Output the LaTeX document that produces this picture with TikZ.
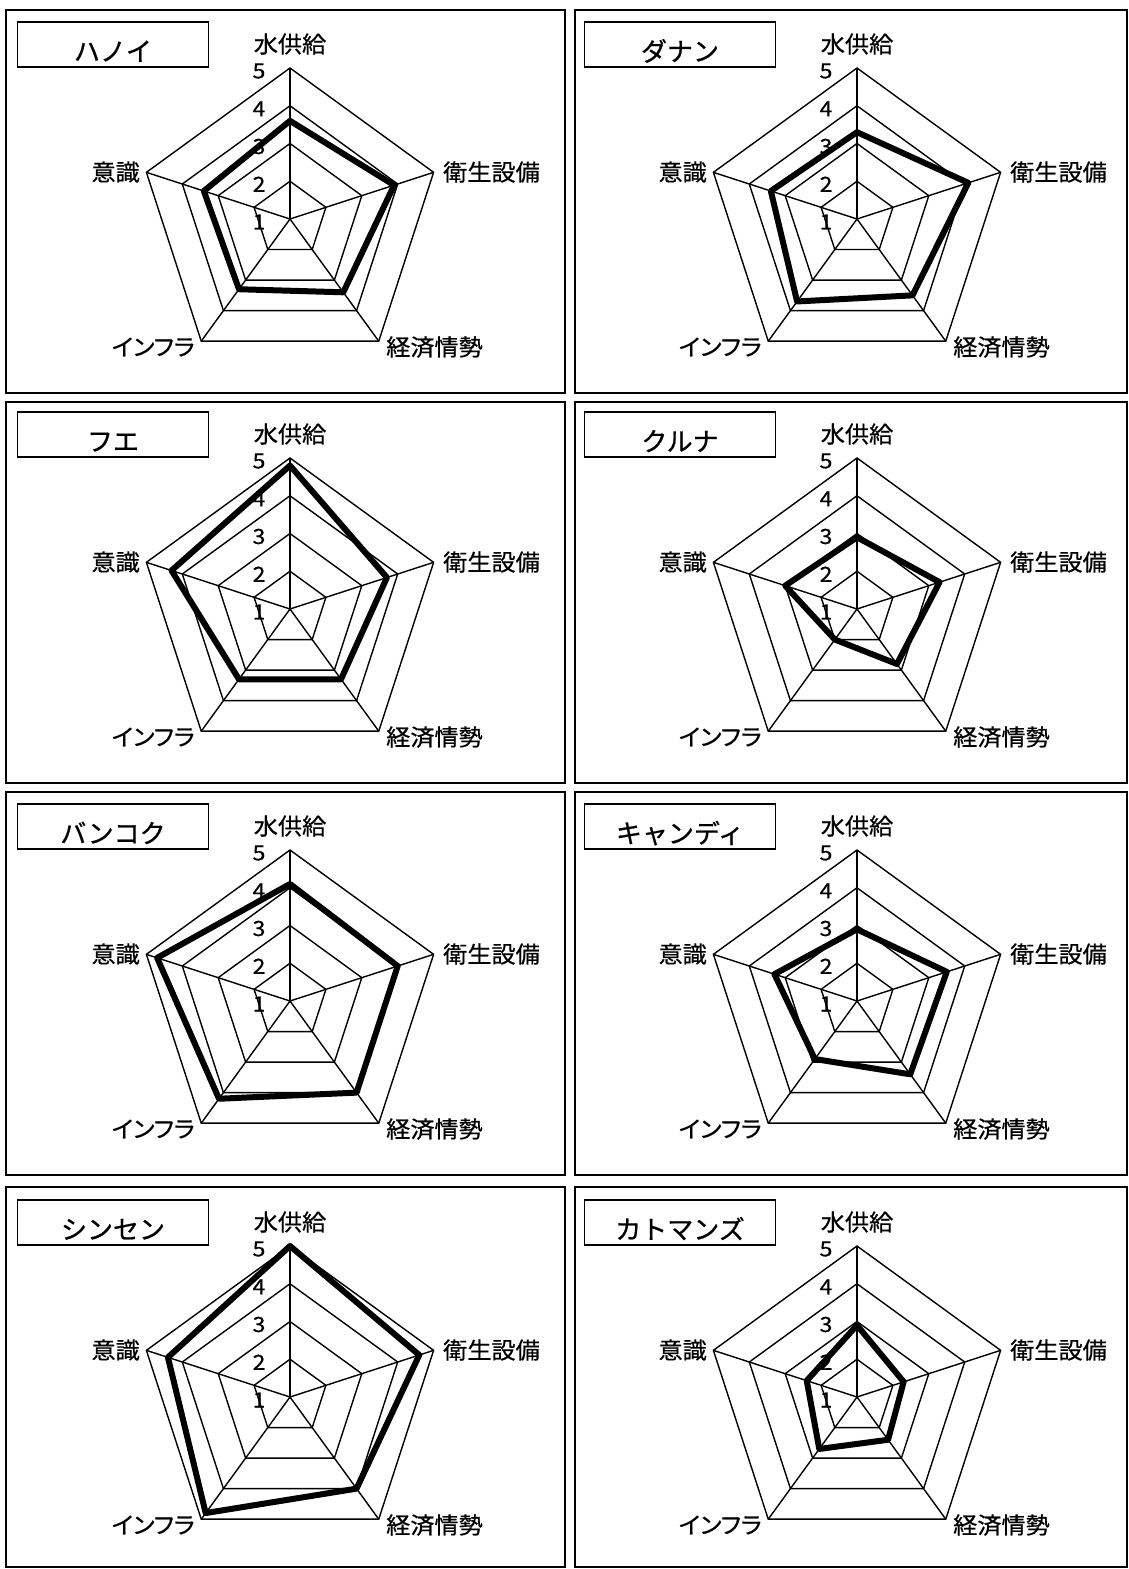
\documentclass[tikz,border=0pt]{standalone}
\usepackage{fontspec}
\newfontfamily\titlefont[FakeBold=0.8]{Noto Sans CJK JP}
\newfontfamily\axisfont[FakeStretch=1.05, FakeBold=0.6, RawFeature=+palt]{Noto Sans CJK JP}
\newfontfamily\tickfont[FakeStretch=1.1, FakeBold=0.5]{Noto Sans CJK JP}
\begin{document}
\begin{tikzpicture}[x=1pt, y=-1pt]

\def\ringstep{37.75};
\def\rmax{151};
\tikzset{
    panel frame/.style={draw, line width=1.5pt},
    title box/.style={
        draw,
        line width=1.5pt,
        inner sep=0pt,
        minimum width=191pt,
        minimum height=45pt,
        text height=33pt,
        text depth=0pt,
        font=\titlefont\fontsize{26}{26}\selectfont
    },
    axis label/.style={inner sep=0pt, font=\axisfont\fontsize{23}{23}\selectfont},
    scale label/.style={inner sep=0pt, font=\tickfont\fontsize{21}{21}\selectfont},
    grid line/.style={line width=1.4pt},
    data line/.style={line width=6pt, line join=round}
};

\useasboundingbox (0,0) rectangle (1129,1569);

\foreach \xa/\xb in {6/565, 575/1127} {
    \foreach \ya/\yb in {10/393, 402/783, 792/1175, 1187/1567} {
        \draw[panel frame] (\xa,\ya) rectangle (\xb,\yb);
    }
}

\foreach \cx/\cy/\name/\va/\vb/\vc/\vd/\ve [count=\i] in {
    290/219/ハノイ/3.6/3.9/3.4/3.3/3.4,
    857/219/ダナン/3.3/4.1/3.5/3.7/3.4,
    290/609/フエ/4.8/3.7/3.3/3.3/4.3,
    857/609/クルナ/2.9/3.3/2.8/2.0/3.0,
    290/1001/バンコク/4.1/4.0/4.0/4.2/4.7,
    857/1001/キャンディ/2.9/3.5/3.4/2.9/3.3,
    290/1397/シンセン/5.0/4.6/4.0/4.8/4.4,
    857/1397/カトマンズ/2.9/2.3/2.4/2.7/2.4} {

    \coordinate (c\i) at (\cx,\cy);
    \node[title box] (title\i) at (\cx-177,\cy-174.5) {\name};

    \foreach \k in {0,...,4} {
        \coordinate (ax\i\k) at ({\cx+\rmax*sin(72*\k)}, {\cy-\rmax*cos(72*\k)});
        \draw[grid line] (c\i) -- (ax\i\k);
    }
    \foreach \lv in {2,...,5} {
        \draw[grid line] plot[samples at={0,...,4}]
            ({\cx+(\lv-1)*\ringstep*sin(72*\x)}, {\cy-(\lv-1)*\ringstep*cos(72*\x)}) -- cycle;
    }

    \node[axis label] (water\i) at (\cx,\cy-175) {水供給};
    \node[axis label, anchor=west] (sanit\i) at (\cx+153,\cy-47) {衛生設備};
    \node[axis label, anchor=west] (econ\i) at (\cx+96,\cy+128) {経済情勢};
    \node[axis label, anchor=east] (infra\i) at (\cx-95,\cy+128) {インフラ};
    \node[axis label, anchor=east] (aware\i) at (\cx-150,\cy-47) {意識};

    \foreach \lv in {1,...,5} {
        \node[scale label] (tick\i\lv) at (\cx-31, {\cy-(\lv-1)*\ringstep+3}) {\lv};
    }

    \draw[data line] ({\cx}, {\cy-(\va-1)*\ringstep})
        -- ({\cx+(\vb-1)*\ringstep*sin(72)}, {\cy-(\vb-1)*\ringstep*cos(72)})
        -- ({\cx+(\vc-1)*\ringstep*sin(144)}, {\cy-(\vc-1)*\ringstep*cos(144)})
        -- ({\cx+(\vd-1)*\ringstep*sin(216)}, {\cy-(\vd-1)*\ringstep*cos(216)})
        -- ({\cx+(\ve-1)*\ringstep*sin(288)}, {\cy-(\ve-1)*\ringstep*cos(288)}) -- cycle;
}
\end{tikzpicture}
\end{document}
